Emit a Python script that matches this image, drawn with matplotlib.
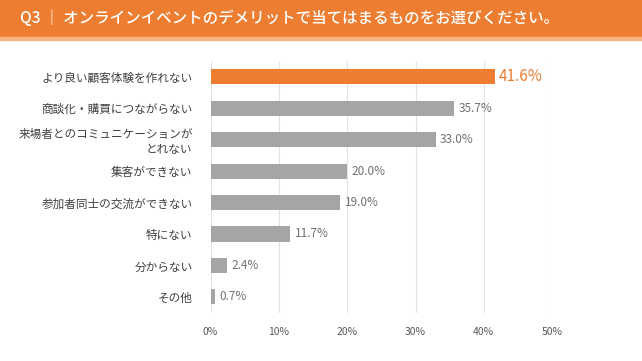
import matplotlib
matplotlib.use("Agg")
import matplotlib.pyplot as plt

plt.rcParams["font.family"] = ["Noto Sans CJK JP", "DejaVu Sans"]

title = "Q3 ｜ オンラインイベントのデメリットで当てはまるものをお選びください。"
categories = [
    "より良い顧客体験を作れない",
    "商談化・購買につながらない",
    "来場者とのコミュニケーションが\nとれない",
    "集客ができない",
    "参加者同士の交流ができない",
    "特にない",
    "分からない",
    "その他",
]
values = [41.6, 35.7, 33.0, 20.0, 19.0, 11.7, 2.4, 0.7]
xticks = [0, 10, 20, 30, 40, 50]

orange = "#ED7D31"
gray = "#A5A5A5"

fig = plt.figure(figsize=(6.42, 3.61), dpi=100)

# header band
fig.patches.append(plt.Rectangle((0, 1 - 37 / 361), 1, 37 / 361,
                                 transform=fig.transFigure, color=orange, zorder=0))
fig.patches.append(plt.Rectangle((0, 1 - 40 / 361), 1, 3 / 361,
                                 transform=fig.transFigure, color="#F6B27F", zorder=0))
fig.text(20 / 642, 1 - 19 / 361, title, color="white", fontsize=11.2,
         va="center", ha="left", fontweight="medium")

ax = fig.add_axes([0.328, 0.134, 0.532, 0.697])
ypos = list(range(len(categories)))
colors = [orange] + [gray] * (len(categories) - 1)
ax.barh(ypos, values, height=0.48, color=colors, zorder=3)
ax.set_ylim(len(categories) - 0.5, -0.5)
ax.set_xlim(0, 50)

for i, v in enumerate(values):
    if i == 0:
        ax.text(v + 0.6, i, f"{v:.1f}%", va="center", ha="left",
                color=orange, fontsize=11)
    else:
        ax.text(v + 0.6, i, f"{v:.1f}%", va="center", ha="left",
                color="#707070", fontsize=8.5)

ax.set_xticks(xticks)
ax.set_xticklabels([f"{t}%" for t in xticks], fontsize=7.5, color="#595959")
ax.set_yticks(ypos)
ax.set_yticklabels(categories, fontsize=8.4, color="#404040")
ax.tick_params(axis="x", length=0, pad=10)
ax.tick_params(axis="y", length=0, pad=13)
for lbl in ax.get_yticklabels():
    lbl.set_multialignment("right")

ax.grid(axis="x", color="#E3E3E3", linewidth=0.8, zorder=0)
for s in ax.spines.values():
    s.set_visible(False)

fig.savefig("out.png", dpi=100)
